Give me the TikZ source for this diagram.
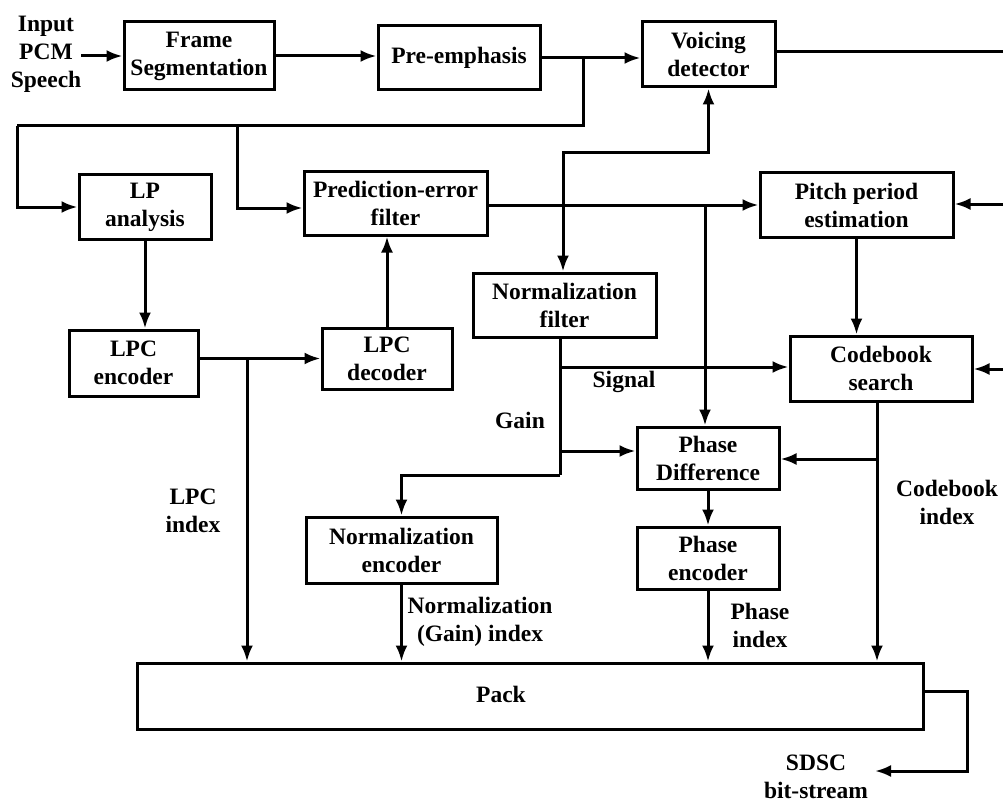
\documentclass[tikz,border=0pt]{standalone}
\usepackage{fontspec}
\setmainfont{Liberation Serif}
\usetikzlibrary{arrows.meta}
\begin{document}
\begin{tikzpicture}[x=1pt,y=-1pt,
  every node/.style={font=\bfseries\fontsize{23.5}{28}\selectfont, align=center, inner sep=0pt},
  blk/.style={draw, line width=3pt},
  ln/.style={line width=3pt},
  arr/.style={line width=3pt, -{Latex[length=16pt,width=12pt]}}]
\useasboundingbox (0,0) rectangle (1003,805);
% boxes
\node[blk, minimum width=150, minimum height=68] (frame) at (199,56) {Frame\\Segmentation};
\node[blk, minimum width=162, minimum height=64] (preemph) at (459,58) {Pre-emphasis};
\node[blk, minimum width=133, minimum height=65] (voicing) at (708.5,54.5) {Voicing\\detector};
\node[blk, minimum width=132, minimum height=64] (lpan) at (145,207) {LP\\analysis};
\node[blk, minimum width=183, minimum height=63] (pef) at (395.5,203.5) {Prediction-error\\filter};
\node[blk, minimum width=193, minimum height=64] (pitch) at (856.5,205) {Pitch period\\estimation};
\node[blk, minimum width=183, minimum height=64] (normf) at (564.5,305) {Normalization\\filter};
\node[blk, minimum width=129, minimum height=66] (lpcenc) at (133.5,363) {LPC\\encoder};
\node[blk, minimum width=130, minimum height=61] (lpcdec) at (387,358.5) {LPC\\decoder};
\node[blk, minimum width=182, minimum height=65] (cbs) at (881,368.5) {Codebook\\search};
\node[blk, minimum width=142, minimum height=62] (phdiff) at (708,458) {Phase\\Difference};
\node[blk, minimum width=191, minimum height=66] (normenc) at (401.5,550) {Normalization\\encoder};
\node[blk, minimum width=142, minimum height=62] (phenc) at (708,558) {Phase\\encoder};
\node[blk, minimum width=786, minimum height=66] (pack) at (530,696) {};
\node (packtxt) at (501,694) {Pack};
% labels
\node (input) at (46,54) {Input\\PCM\\Speech};
\node (signal) at (624,382) {Signal};
\node (gain) at (520,420) {Gain};
\node (lpcidx) at (193,511) {LPC\\index};
\node (normidx) at (480,622) {Normalization\\(Gain) index};
\node (phidx) at (760,625) {Phase\\index};
\node (cbidx) at (947,502) {Codebook\\index};
\node (sdsc) at (816,777) {SDSC\\bit-stream};
% coordinates
\coordinate (b1) at (583,58);
\coordinate (c1) at (583,126);
\coordinate (c2) at (17,126);
\coordinate (c3) at (237,126);
\coordinate (c4) at (237,208);
\coordinate (j1) at (563,205);
\coordinate (v1) at (563,153);
\coordinate (j2) at (705,205);
\coordinate (r1) at (1010,52);
\coordinate (r2) at (1010,204);
\coordinate (r3) at (1010,369);
\coordinate (g0) at (560,367);
\coordinate (g1) at (560,475);
\coordinate (g2) at (560,451);
\coordinate (k0) at (877,459);
\coordinate (l1) at (247,358.5);
\coordinate (p1) at (967,691);
\coordinate (p2) at (967,771);
\coordinate (p3) at (875,771);
% connectors
\draw[arr] (input.east |- frame.west) -- (frame.west);
\draw[arr] (frame.east) -- (preemph.west |- frame.east);
\draw[arr] (preemph.east) -- (voicing.west |- preemph.east);
\draw[ln] (b1) -- (c1) -- (c2);
\draw[arr] (c2) |- (lpan.west);
\draw[arr] (c3) -- (c4) -- (pef.west |- c4);
\draw[arr] (pef.east |- j1) -- (pitch.west |- j1);
\draw[arr] (j1) -- (v1) -| (voicing.south);
\draw[arr] (v1) -- (normf.north -| v1);
\draw[arr] (j2) -- (phdiff.north -| j2);
\draw[ln] (voicing.east |- r1) -- (r1) -- (r3);
\draw[arr] (r2) -- (pitch.east |- r2);
\draw[arr] (r3) -- (cbs.east |- r3);
\draw[arr] (pitch.south) -- (pitch.south |- cbs.north);
\draw[arr] (cbs.south -| k0) -- (pack.north -| k0);
\draw[arr] (k0) -- (phdiff.east |- k0);
\draw[ln] (normf.south -| g1) -- (g1);
\draw[arr] (g1) -| (normenc.north);
\draw[arr] (g0) -- (cbs.west |- g0);
\draw[arr] (g2) -- (phdiff.west |- g2);
\draw[arr] (phdiff.south) -- (phenc.north);
\draw[arr] (phenc.south) -- (phenc.south |- pack.north);
\draw[arr] (normenc.south) -- (normenc.south |- pack.north);
\draw[arr] (lpan.south) -- (lpan.south |- lpcenc.north);
\draw[arr] (lpcenc.east |- lpcdec.west) -- (lpcdec.west);
\draw[arr] (lpcdec.north) -- (lpcdec.north |- pef.south);
\draw[arr] (l1) -- (l1 |- pack.north);
\draw[arr] (pack.east |- p1) -- (p1) -- (p2) -- (p3);
\end{tikzpicture}
\end{document}
